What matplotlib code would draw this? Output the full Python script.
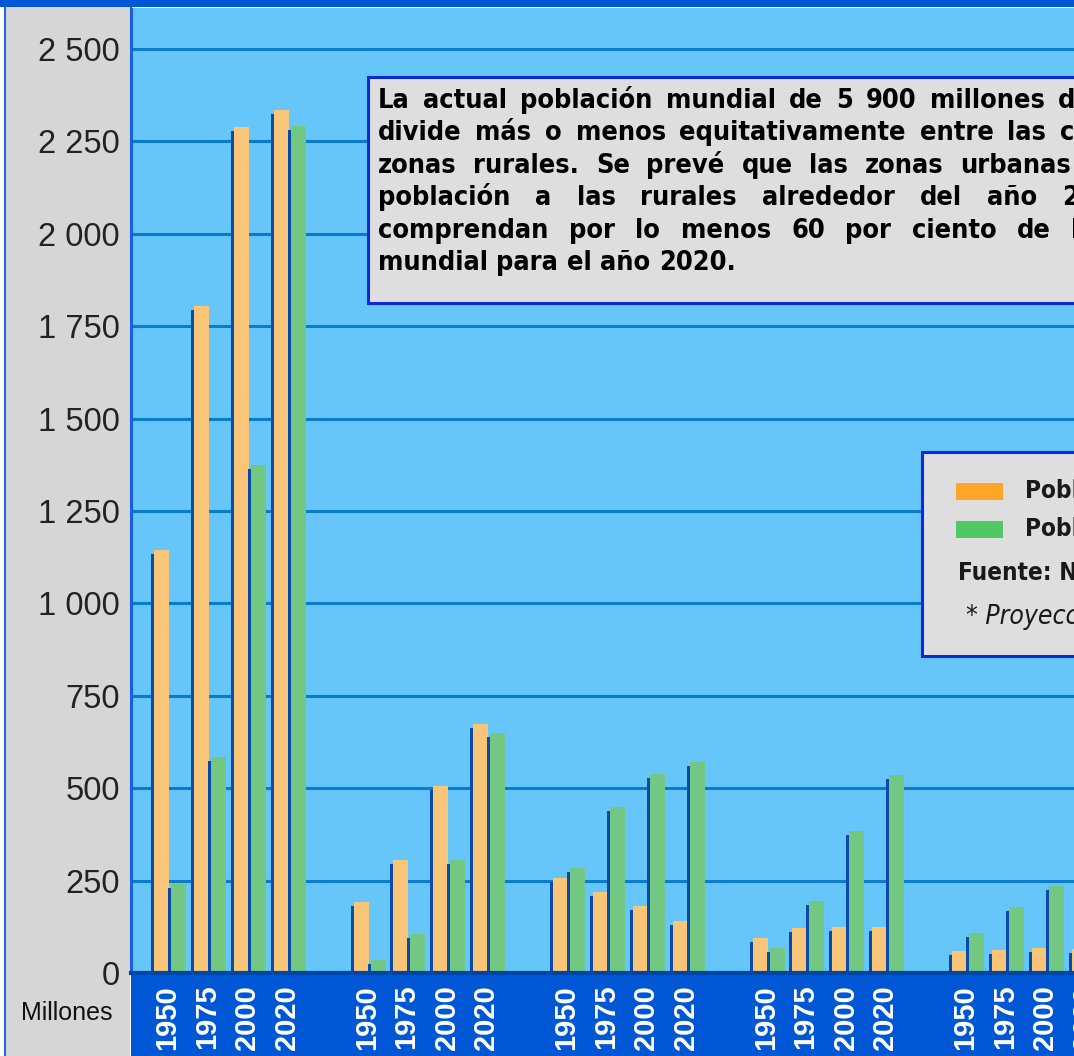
import os
import matplotlib
matplotlib.use("Agg")
import matplotlib.pyplot as plt
from matplotlib import font_manager as fm
from matplotlib.patches import Rectangle

# ---------------- data ----------------
years = ["1950", "1975", "2000", "2020"]
regions = ["Asia", "África", "Europa", "América Latina y el Caribe", "América del Norte"]

rural_asia = [1145, 1804, 2290, 2335]
urban_asia = [240, 585, 1374, 2292]
rural_africa = [191, 305, 505, 673]
urban_africa = [35, 105, 305, 650]
rural_europe = [256, 219, 181, 141]
urban_europe = [283, 450, 538, 571]
rural_latam = [95, 122, 125, 125]
urban_latam = [68, 194, 383, 536]
rural_namerica = [60, 62, 68, 65]
urban_namerica = [108, 178, 235, 280]

rural = [rural_asia, rural_africa, rural_europe, rural_latam, rural_namerica]
urban = [urban_asia, urban_africa, urban_europe, urban_latam, urban_namerica]

yticks = [0, 250, 500, 750, 1000, 1250, 1500, 1750, 2000, 2250, 2500]
ytick_labels = [f"{v:,}".replace(",", " ") for v in yticks]
y_unit = "Millones"

legend_labels = ["Población rural", "Población urbana"]
source_note = "Fuente: Naciones Unidas"
projection_note = "* Proyecciones"

annotation_lines = [
    "La actual población mundial de 5 900 millones de personas se",
    "divide más o menos equitativamente entre las ciudades y las",
    "zonas rurales. Se prevé que las zonas urbanas superen en",
    "población a las rurales alrededor del año 2005 y que",
    "comprendan por lo menos 60 por ciento de la población",
    "mundial para el año 2020.",
]

# ---------------- style ----------------
W, H = 1074, 1056
C_PLOT = "#66C6FA"
C_GRID = "#0A7CC8"
C_RURAL = "#F9C579"
C_URBAN = "#72C882"
C_SHADOW = "#0A4BAA"
C_BAND = "#0057D6"
C_AXIS = "#0046A8"
C_PANEL = "#D6D6D6"
C_BOX = "#DEDEDE"
C_BOXEDGE = "#0A28DC"
C_LEG_RURAL = "#FFA528"
C_LEG_URBAN = "#50C864"

SLOT = 39.9           # px per year slot
PX_PER_UNIT = 0.3696  # px per million


def pick_font(cands, weight="bold", style="normal"):
    for fam, stretch in cands:
        fp = fm.FontProperties(family=fam, weight=weight, style=style, stretch=stretch)
        try:
            path = fm.findfont(fp, fallback_to_default=False)
        except Exception:
            continue
        base = os.path.basename(path)
        if fam.startswith("DejaVu Sans") and ("ondensed" not in base):
            if fam != "DejaVu Sans" or stretch != "normal":
                continue
        if fam == "Liberation Sans Narrow" and "Narrow" not in base:
            continue
        return fp, base
    return fm.FontProperties(family="DejaVu Sans", weight=weight, style=style), "fallback"


cond_cands = [("DejaVu Sans Condensed", "normal"), ("DejaVu Sans", "condensed"),
              ("Liberation Sans Narrow", "normal"), ("DejaVu Sans", "normal")]
fp_box, box_font_name = pick_font(cond_cands, "bold")
fp_leg, _ = pick_font(cond_cands, "bold")
fp_leg_it, _ = pick_font(cond_cands, "normal", "italic")

plt.rcParams["font.family"] = ["Liberation Sans", "DejaVu Sans"]

fig = plt.figure(figsize=(W / 100, H / 100), dpi=100, facecolor="white")


def fx(x):
    return x / W


def fy(y):
    return 1 - y / H


def frect(x0, y0, x1, y1, **kw):
    r = Rectangle((fx(x0), fy(y1)), (x1 - x0) / W, (y1 - y0) / H,
                  transform=fig.transFigure, **kw)
    fig.add_artist(r)
    return r


# frame pieces
frect(6, 7, 130, H, facecolor=C_PANEL, edgecolor="none", zorder=-2)
frect(4, 7, 6, H, facecolor="#1E64F0", edgecolor="none", zorder=-2)
frect(131, 975, W + 10, H, facecolor=C_BAND, edgecolor="none", zorder=-1)
frect(0, 0, W + 10, 7, facecolor=C_BAND, edgecolor="none", zorder=8)

# axes (extends beyond the right edge, as in the cropped original)
ax_left, ax_top, ax_bottom = 131, 8, 973
n_slots = 40
ax = fig.add_axes([fx(ax_left), fy(ax_bottom), n_slots * SLOT / W, (ax_bottom - ax_top) / H])
ax.set_facecolor(C_PLOT)
x_first = 170
xmin = -(x_first - ax_left) / SLOT
ax.set_xlim(xmin, xmin + n_slots)
ax.set_ylim(0, (ax_bottom - ax_top) / PX_PER_UNIT)

off = 8.5 / SLOT
bw = 15 / SLOT
sh_dx = 3 / SLOT
sh_dy = 4 / PX_PER_UNIT

positions = []
for g in range(len(regions)):
    for j in range(len(years)):
        p = g * 5 + j
        positions.append(p)
        r = rural[g][j]
        u = urban[g][j]
        ax.bar(p - off - sh_dx, r - sh_dy, width=bw, color=C_SHADOW, zorder=2, linewidth=0)
        ax.bar(p - off, r, width=bw, color=C_RURAL, zorder=2, linewidth=0)
        ax.bar(p + off - sh_dx, u - sh_dy, width=bw, color=C_SHADOW, zorder=2, linewidth=0)
        ax.bar(p + off, u, width=bw, color=C_URBAN, zorder=2, linewidth=0)

ax.set_axisbelow(True)
ax.set_yticks(yticks, labels=ytick_labels)
ax.yaxis.grid(True, color=C_GRID, linewidth=2.2)
ax.xaxis.grid(False)
ax.tick_params(axis="y", length=0, pad=8, labelsize=23.5, labelcolor="#222222")
ax.set_xticks([p - 0.07 for p in positions], labels=years * len(regions))
ax.tick_params(axis="x", length=0, pad=8.5, labelsize=21, labelcolor="white", rotation=90)
for lab in ax.get_xticklabels():
    lab.set_fontweight("bold")

for s in ["top", "right"]:
    ax.spines[s].set_visible(False)
ax.spines["left"].set_color("#1A5FE0")
ax.spines["left"].set_linewidth(2.2)
ax.spines["bottom"].set_color(C_AXIS)
ax.spines["bottom"].set_linewidth(3)

# white line under the top band
frect(132, 7, W + 10, 8, facecolor="white", edgecolor="none", zorder=8)

fig.text(fx(67), fy(1013), y_unit, ha="center", va="center", fontsize=18, color="#111111")

# ---------------- annotation box ----------------
frect(368, 77, W + 300, 303, facecolor=C_BOX, edgecolor=C_BOXEDGE, linewidth=2.2, zorder=5)

renderer = fig.canvas.get_renderer()


def word_width(w, fp):
    t = fig.text(0, 0, w, fontproperties=fp)
    bb = t.get_window_extent(renderer)
    t.remove()
    return bb.width


fp_box = fp_box.copy()
fp_box.set_size(20)
natural = word_width(annotation_lines[-1], fp_box)
fp_box.set_size(20 * 359 / natural)

x0, y0, dy = 378, 108, 32.4
# (index of word, pixel x where that word starts) for justified lines
anchors = [(8, 1058), (7, 1060), (7, 960), (7, 1062), (7, 1017), None]
for i, line in enumerate(annotation_lines):
    words = line.split(" ")
    widths = [word_width(w, fp_box) for w in words]
    if anchors[i] is None:
        gap = word_width("a b", fp_box) - word_width("a", fp_box) - word_width("b", fp_box)
    else:
        k, xa = anchors[i]
        gap = (xa - x0 - sum(widths[:k])) / k
    x = x0
    for w, wd in zip(words, widths):
        fig.text(fx(x), fy(y0 + i * dy), w, fontproperties=fp_box, color="#000000",
                 ha="left", va="baseline", zorder=6)
        x += wd + gap

# ---------------- legend box ----------------
frect(922, 452, W + 300, 656, facecolor=C_BOX, edgecolor=C_BOXEDGE, linewidth=2.2, zorder=5)
frect(956, 483, 1003, 500, facecolor=C_LEG_RURAL, edgecolor="none", zorder=6)
frect(956, 521, 1003, 538, facecolor=C_LEG_URBAN, edgecolor="none", zorder=6)
fp_l = fp_leg.copy()
fp_l.set_size(17.5)
fig.text(fx(1025), fy(491), legend_labels[0], fontproperties=fp_l, color="#1A1A1A",
         ha="left", va="center", zorder=6)
fig.text(fx(1025), fy(529), legend_labels[1], fontproperties=fp_l, color="#1A1A1A",
         ha="left", va="center", zorder=6)
fig.text(fx(958), fy(573), source_note, fontproperties=fp_l, color="#1A1A1A",
         ha="left", va="center", zorder=6)
fp_i = fp_leg_it.copy()
fp_i.set_size(19)
fig.text(fx(966), fy(617), projection_note, fontproperties=fp_i, color="#1A1A1A",
         ha="left", va="center", zorder=6)

fig.savefig("out.png", dpi=100, facecolor=fig.get_facecolor())
